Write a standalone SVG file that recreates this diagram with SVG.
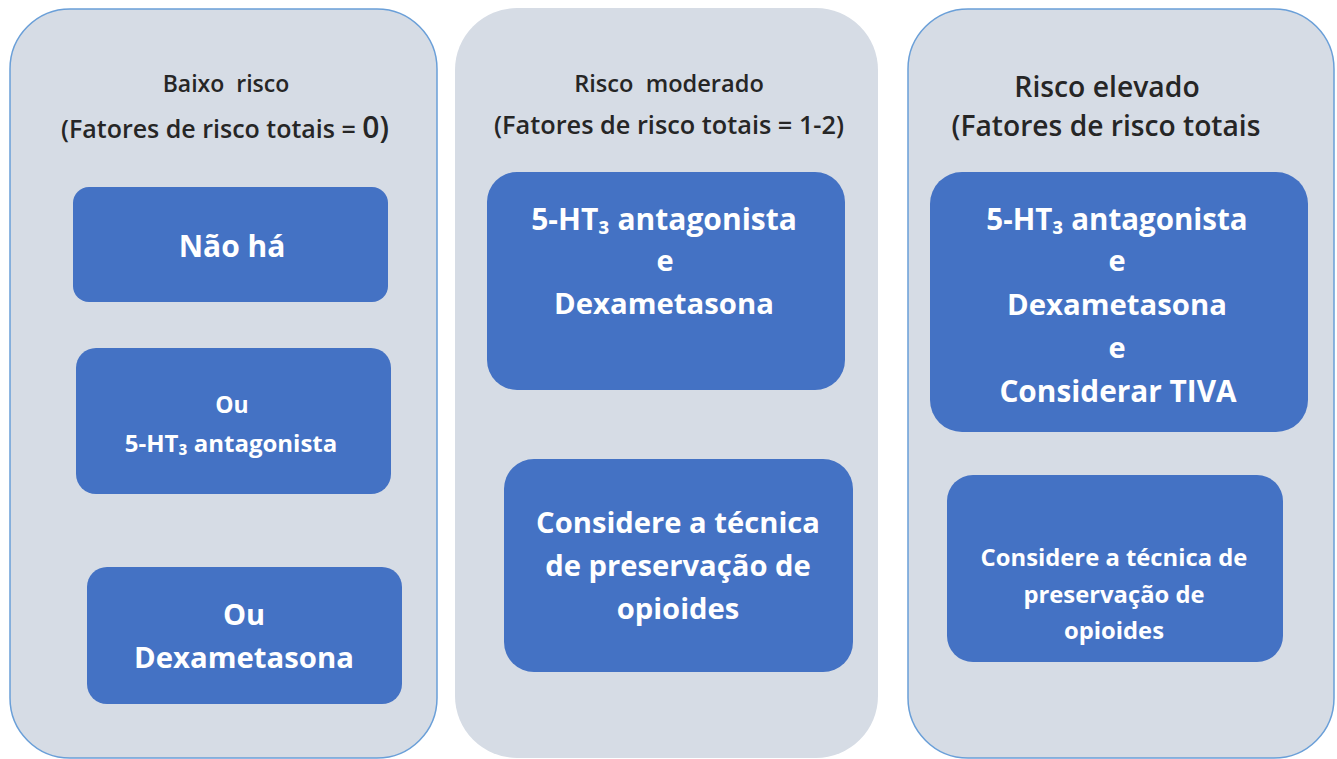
<svg xmlns="http://www.w3.org/2000/svg" width="1337" height="759" viewBox="0 0 1337 759">
<style>
.panel{fill:#d6dce5}
.bord{stroke:#6a9fd8;stroke-width:1.5}
.box{fill:#4472c4}
.hd{font-family:"Open Sans","Noto Sans","Liberation Sans",sans-serif;font-weight:600;fill:#262626;text-anchor:middle}
.bt{font-family:"Open Sans","Noto Sans","Liberation Sans",sans-serif;font-weight:700;fill:#ffffff;text-anchor:middle}
</style>
<rect width="1337" height="759" fill="#ffffff"/>
<g id="panel-baixo">
<rect class="panel bord" x="10" y="9" width="427" height="749" rx="60" ry="60"/>
<text class="hd" x="226" y="92" font-size="23" xml:space="preserve">Baixo  risco</text>
<text class="hd" x="225" y="138" font-size="25">(Fatores de risco totais = <tspan font-size="30">0)</tspan></text>
</g>
<g id="panel-moderado">
<rect class="panel" x="455" y="8" width="423" height="750" rx="62" ry="62"/>
<text class="hd" x="669" y="92" font-size="23.6" xml:space="preserve">Risco  moderado</text>
<text class="hd" x="669" y="134" font-size="25.3">(Fatores de risco totais = 1-2)</text>
</g>
<g id="panel-elevado">
<rect class="panel bord" x="908" y="9" width="426" height="749" rx="60" ry="60"/>
<text class="hd" x="1107" y="97" font-size="28.3">Risco elevado</text>
<text class="hd" x="1106" y="136" font-size="28.2">(Fatores de risco totais</text>
</g>
<g id="node-nao-ha">
<rect class="box" x="73" y="187" width="315" height="115" rx="16" ry="16"/>
<text class="bt" x="232" y="257" font-size="30">Não há</text>
</g>
<g id="node-ou-5ht3">
<rect class="box" x="76" y="348" width="315" height="146" rx="20" ry="20"/>
<text class="bt" x="232" y="413" font-size="23">Ou</text>
<text class="bt" x="231" y="452" font-size="24">5-HT₃ antagonista</text>
</g>
<g id="node-ou-dexa">
<rect class="box" x="87" y="567" width="315" height="137" rx="20" ry="20"/>
<text class="bt" x="244" y="625" font-size="29">Ou</text>
<text class="bt" x="244" y="668" font-size="29.3">Dexametasona</text>
</g>
<g id="node-mod-combo">
<rect class="box" x="487" y="172" width="358" height="218" rx="30" ry="30"/>
<text class="bt" x="664" y="230" font-size="30">5-HT₃ antagonista</text>
<text class="bt" x="665" y="271" font-size="29">e</text>
<text class="bt" x="664" y="314" font-size="29.3">Dexametasona</text>
</g>
<g id="node-mod-opioides">
<rect class="box" x="504" y="459" width="349" height="213" rx="30" ry="30"/>
<text class="bt" x="678" y="533" font-size="29.2">Considere a técnica</text>
<text class="bt" x="678" y="576" font-size="29.2">de preservação de</text>
<text class="bt" x="678" y="619" font-size="29.2">opioides</text>
</g>
<g id="node-ele-combo">
<rect class="box" x="930" y="172" width="378" height="260" rx="32" ry="32"/>
<text class="bt" x="1117" y="230" font-size="29.5">5-HT₃ antagonista</text>
<text class="bt" x="1117" y="271" font-size="29">e</text>
<text class="bt" x="1117" y="315" font-size="29.3">Dexametasona</text>
<text class="bt" x="1117" y="358" font-size="29">e</text>
<text class="bt" x="1118" y="402" font-size="29.8">Considerar TIVA</text>
</g>
<g id="node-ele-opioides">
<rect class="box" x="947" y="475" width="336" height="187" rx="26" ry="26"/>
<text class="bt" x="1114" y="566" font-size="23.8">Considere a técnica de</text>
<text class="bt" x="1114" y="603" font-size="23.8">preservação de</text>
<text class="bt" x="1114" y="639" font-size="23.8">opioides</text>
</g>
<g id="connectors"></g>
</svg>
